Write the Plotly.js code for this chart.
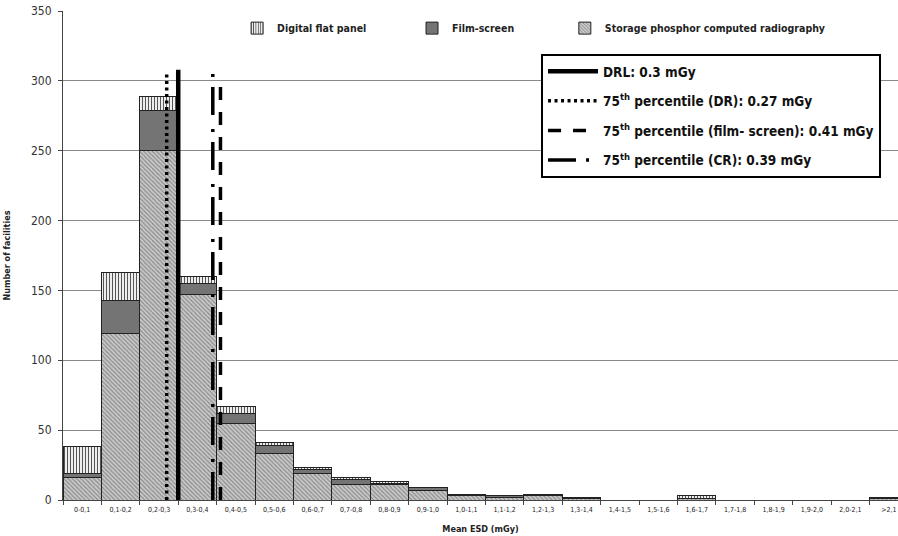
<!DOCTYPE html>
<html><head><meta charset="utf-8">
<script src="https://cdn.plot.ly/plotly-3.0.1.min.js"></script>
<style>html,body{margin:0;padding:0;background:#fff;overflow:hidden}#c{width:898px;height:536px}</style>
</head><body><div id="c"></div>
<script>
const categories = ["0-0,1","0,1-0,2","0,2-0,3","0,3-0,4","0,4-0,5","0,5-0,6","0,6-0,7","0,7-0,8","0,8-0,9","0,9-1,0","1,0-1,1","1,1-1,2","1,2-1,3","1,3-1,4","1,4-1,5","1,5-1,6","1,6-1,7","1,7-1,8","1,8-1,9","1,9-2,0","2,0-2,1",">2,1"];
const storagePhosphorCR = [16,119,250,147,55,33,19,11,11,7,3,2,3,1,0,0,1,0,0,0,0,1];
const filmScreen        = [3,24,29,8,7,6,3,4,1,2,1,1,1,1,0,0,0,0,0,0,0,1];
const digitalFlatPanel  = [19,20,10,5,5,2,1,1,1,0,0,0,0,0,0,0,2,0,0,0,0,0];
const refLineNames = ["DRL: 0.3 mGy","75<sup>th</sup> percentile (DR): 0.27 mGy","75<sup>th</sup> percentile (film- screen): 0.41 mGy","75<sup>th</sup> percentile (CR): 0.39 mGy"];
const refLineValues = [0.3, 0.27, 0.41, 0.39];
const refLineTops = [308, 306, 304, 306];
const yTicks = [0,50,100,150,200,250,300,350];

const FONT = "DejaVu Sans Condensed, DejaVu Sans, sans-serif";
const lineStyles = [
  {color:"#000", width:4.5, dash:"solid"},
  {color:"#000", width:3.5, dash:"3px,3.5px"},
  {color:"#000", width:3.5, dash:"13px,12px"},
  {color:"#000", width:3.5, dash:"28px,10px,3px,14px"}
];

const traces = [
  {type:"bar", name:"Storage phosphor computed radiography", x:categories, y:storagePhosphorCR,
   marker:{color:"#c6c6c6", line:{color:"#222", width:1}, pattern:{shape:"\\", bgcolor:"#c8c8c8", fgcolor:"#858585", size:3, solidity:0.35}}, legend:"legend5"},
  {type:"bar", name:"Film-screen", x:categories, y:filmScreen,
   marker:{color:"#747474", line:{color:"#222", width:1}}, legend:"legend4"},
  {type:"bar", name:"Digital flat panel", x:categories, y:digitalFlatPanel,
   marker:{color:"#fff", line:{color:"#222", width:1}, pattern:{shape:"|", bgcolor:"#fff", fgcolor:"#555", size:3, solidity:0.4}}, legend:"legend3"}
];
refLineValues.forEach((v,i)=>{
  traces.push({type:"scatter", mode:"lines", name:refLineNames[i], x:[v,v], y:[0,refLineTops[i]],
    xaxis:"x2", line:lineStyles[i], legend:"legend2", legendgroup:"g"+i, hoverinfo:"skip"});
});

const topLegend = (x) => ({orientation:"h", x:x, y:0.965, xanchor:"left", yanchor:"middle",
  itemwidth:30, bgcolor:"rgba(0,0,0,0)", font:{size:10.5, family:FONT, color:"#222", weight:"bold"}});

const layout = {
  width:898, height:536,
  margin:{l:63, r:0, t:11, b:36},
  paper_bgcolor:"#fff", plot_bgcolor:"#fff",
  barmode:"stack", bargap:0,
  font:{family:FONT, color:"#222"},
  xaxis:{type:"category", range:[-0.5, 21.24], tickson:"boundaries", ticks:"outside", ticklen:4, tickcolor:"#444",
    showline:true, linecolor:"#444", linewidth:1, showgrid:false, tickangle:0, ticklabelstandoff:3,
    tickfont:{size:7, family:FONT, color:"#222"},
    title:{text:"<b>Mean ESD (mGy)</b>", font:{size:9, family:FONT, color:"#222"}, standoff:12}},
  xaxis2:{overlaying:"x", range:[0, 2.174], visible:false, showgrid:false, zeroline:false},
  yaxis:{range:[0,350], tickvals:yTicks, ticks:"outside", ticklen:4, tickcolor:"#444",
    showline:true, linecolor:"#444", linewidth:1, gridcolor:"#8a8a8a", gridwidth:1, zeroline:false,
    ticklabelstandoff:4,
    tickfont:{size:12, family:FONT, color:"#333"},
    title:{text:"<b>Number of facilities</b>", font:{size:9, family:FONT, color:"#222"}, standoff:18}},
  legend3: topLegend(0.2085),
  legend4: topLegend(0.418),
  legend5: topLegend(0.601),
  legend2:{x:0.5725, y:0.912, xanchor:"left", yanchor:"top", bgcolor:"#fff", bordercolor:"#000", borderwidth:2,
    itemwidth:50, tracegroupgap:9, traceorder:"grouped",
    font:{size:13.5, family:FONT, color:"#111", weight:"bold"}},
  showlegend:true
};
Plotly.newPlot("c", traces, layout, {displayModeBar:false, staticPlot:true});
</script></body></html>
